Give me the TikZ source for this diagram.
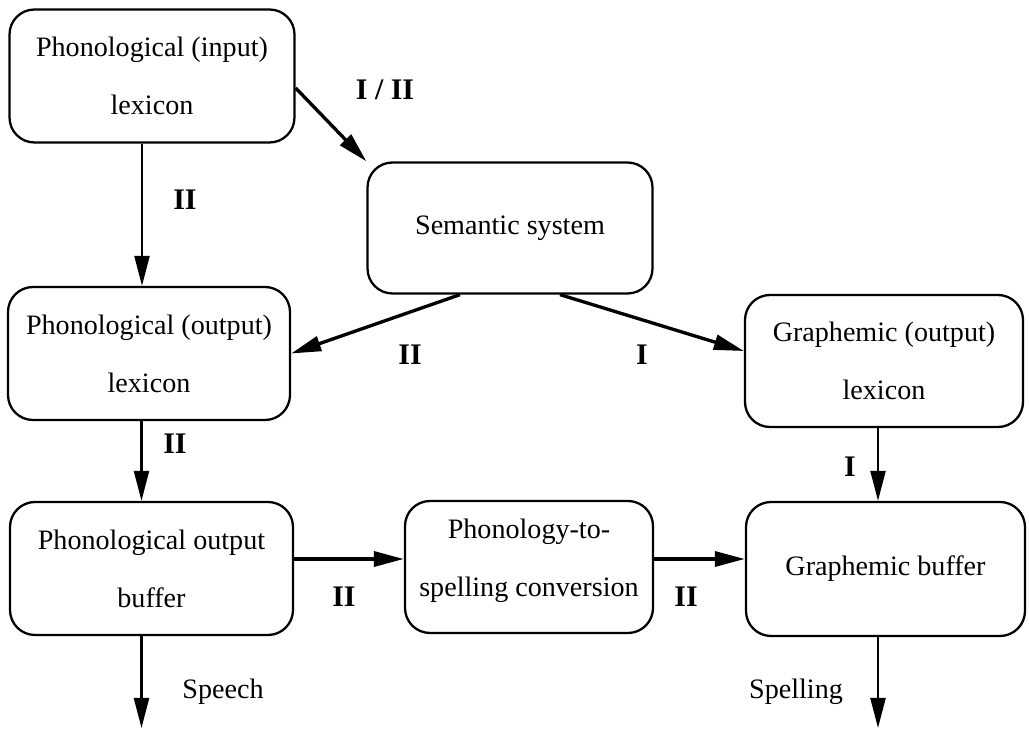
\documentclass[tikz,border=0pt]{standalone}
\usepackage{fontspec}
\setmainfont{Liberation Serif}
\usetikzlibrary{arrows.meta,positioning}

\begin{document}
\begin{tikzpicture}[
        module/.style={rectangle, draw, line width=1.3pt, rounded corners=0.5cm, align=center, inner sep=0pt, font=\fontsize{16}{33}\selectfont},
        route/.style={font=\fontsize{17}{20}\selectfont\bfseries},
        outlabel/.style={font=\fontsize{16}{20}\selectfont},
        arrow/.style={-{Triangle[length=0.6cm, width=0.3cm]}, line width=1.3pt},
        thick_arrow/.style={-{Triangle[length=0.6cm, width=0.3cm]}, line width=1.9pt}
    ]
    \useasboundingbox (0,0) rectangle (20.58,14.58);

    % Lexicons and semantic system
    \node[module, minimum width=5.7cm, minimum height=2.66cm] (inlex) at (3.04,13.06) {Phonological (input)\\lexicon};
    \node[module, minimum width=5.7cm, minimum height=2.62cm] (semantic) at (10.2,10.02) {Semantic system};
    \node[module, minimum width=5.64cm, minimum height=2.66cm] (outlex) at (2.98,7.51) {Phonological (output)\\lexicon};
    \node[module, minimum width=5.56cm, minimum height=2.64cm] (graphlex) at (17.68,7.36) {Graphemic (output)\\lexicon};

    % Buffers and conversion
    \node[module, minimum width=5.66cm, minimum height=2.66cm] (phonbuf) at (3.03,3.21) {Phonological output\\buffer};
    \node[module, minimum width=4.96cm, minimum height=2.64cm] (convert) at (10.58,3.24) {Phonology-to-\\spelling conversion\\[-0.8cm]};
    \node[module, minimum width=5.58cm, minimum height=2.68cm] (graphbuf) at (17.71,3.2) {Graphemic buffer};

    % Free ends
    \coordinate (speechend) at (2.83,0.02);
    \coordinate (spellend) at (17.56,0.02);

    % Arrows
    \draw[arrow] ([xshift=-0.2cm]inlex.south) -- ([xshift=-0.2cm]inlex.south |- outlex.north);
    \draw[thick_arrow] ([yshift=-0.24cm]inlex.east) -- (semantic.north west);
    \draw[thick_arrow] ([xshift=-1cm]semantic.south) -- (outlex.east);
    \draw[thick_arrow] ([xshift=1cm]semantic.south) -- ([yshift=0.2cm]graphlex.west);
    \draw[arrow] ([xshift=-0.15cm]outlex.south) -- ([xshift=-0.15cm]outlex.south |- phonbuf.north);
    \draw[arrow] ([xshift=-0.12cm]graphlex.south) -- ([xshift=-0.12cm]graphlex.south |- graphbuf.north);
    \draw[thick_arrow] ([yshift=0.19cm]phonbuf.east) -- ([yshift=0.19cm]phonbuf.east -| convert.west);
    \draw[thick_arrow] ([yshift=0.16cm]convert.east) -- ([yshift=0.16cm]convert.east -| graphbuf.west);
    \draw[arrow] (phonbuf.south -| speechend) -- (speechend);
    \draw[arrow] (graphbuf.south -| spellend) -- (spellend);

    % Route labels
    \node[route] (r1) at (3.7,10.58) {II};
    \node[route] (r2) at (7.7,12.78) {I / II};
    \node[route] (r3) at (8.2,7.48) {II};
    \node[route] (r4) at (12.84,7.48) {I};
    \node[route] (r5) at (3.5,5.7) {II};
    \node[route] (r6) at (17.0,5.24) {I};
    \node[route] (r7) at (6.88,2.64) {II};
    \node[route] (r8) at (13.72,2.64) {II};

    % Outputs
    \node[outlabel] (speech) at (4.46,0.74) {Speech};
    \node[outlabel] (spelling) at (15.92,0.74) {Spelling};

    \end{tikzpicture}
\end{document}
